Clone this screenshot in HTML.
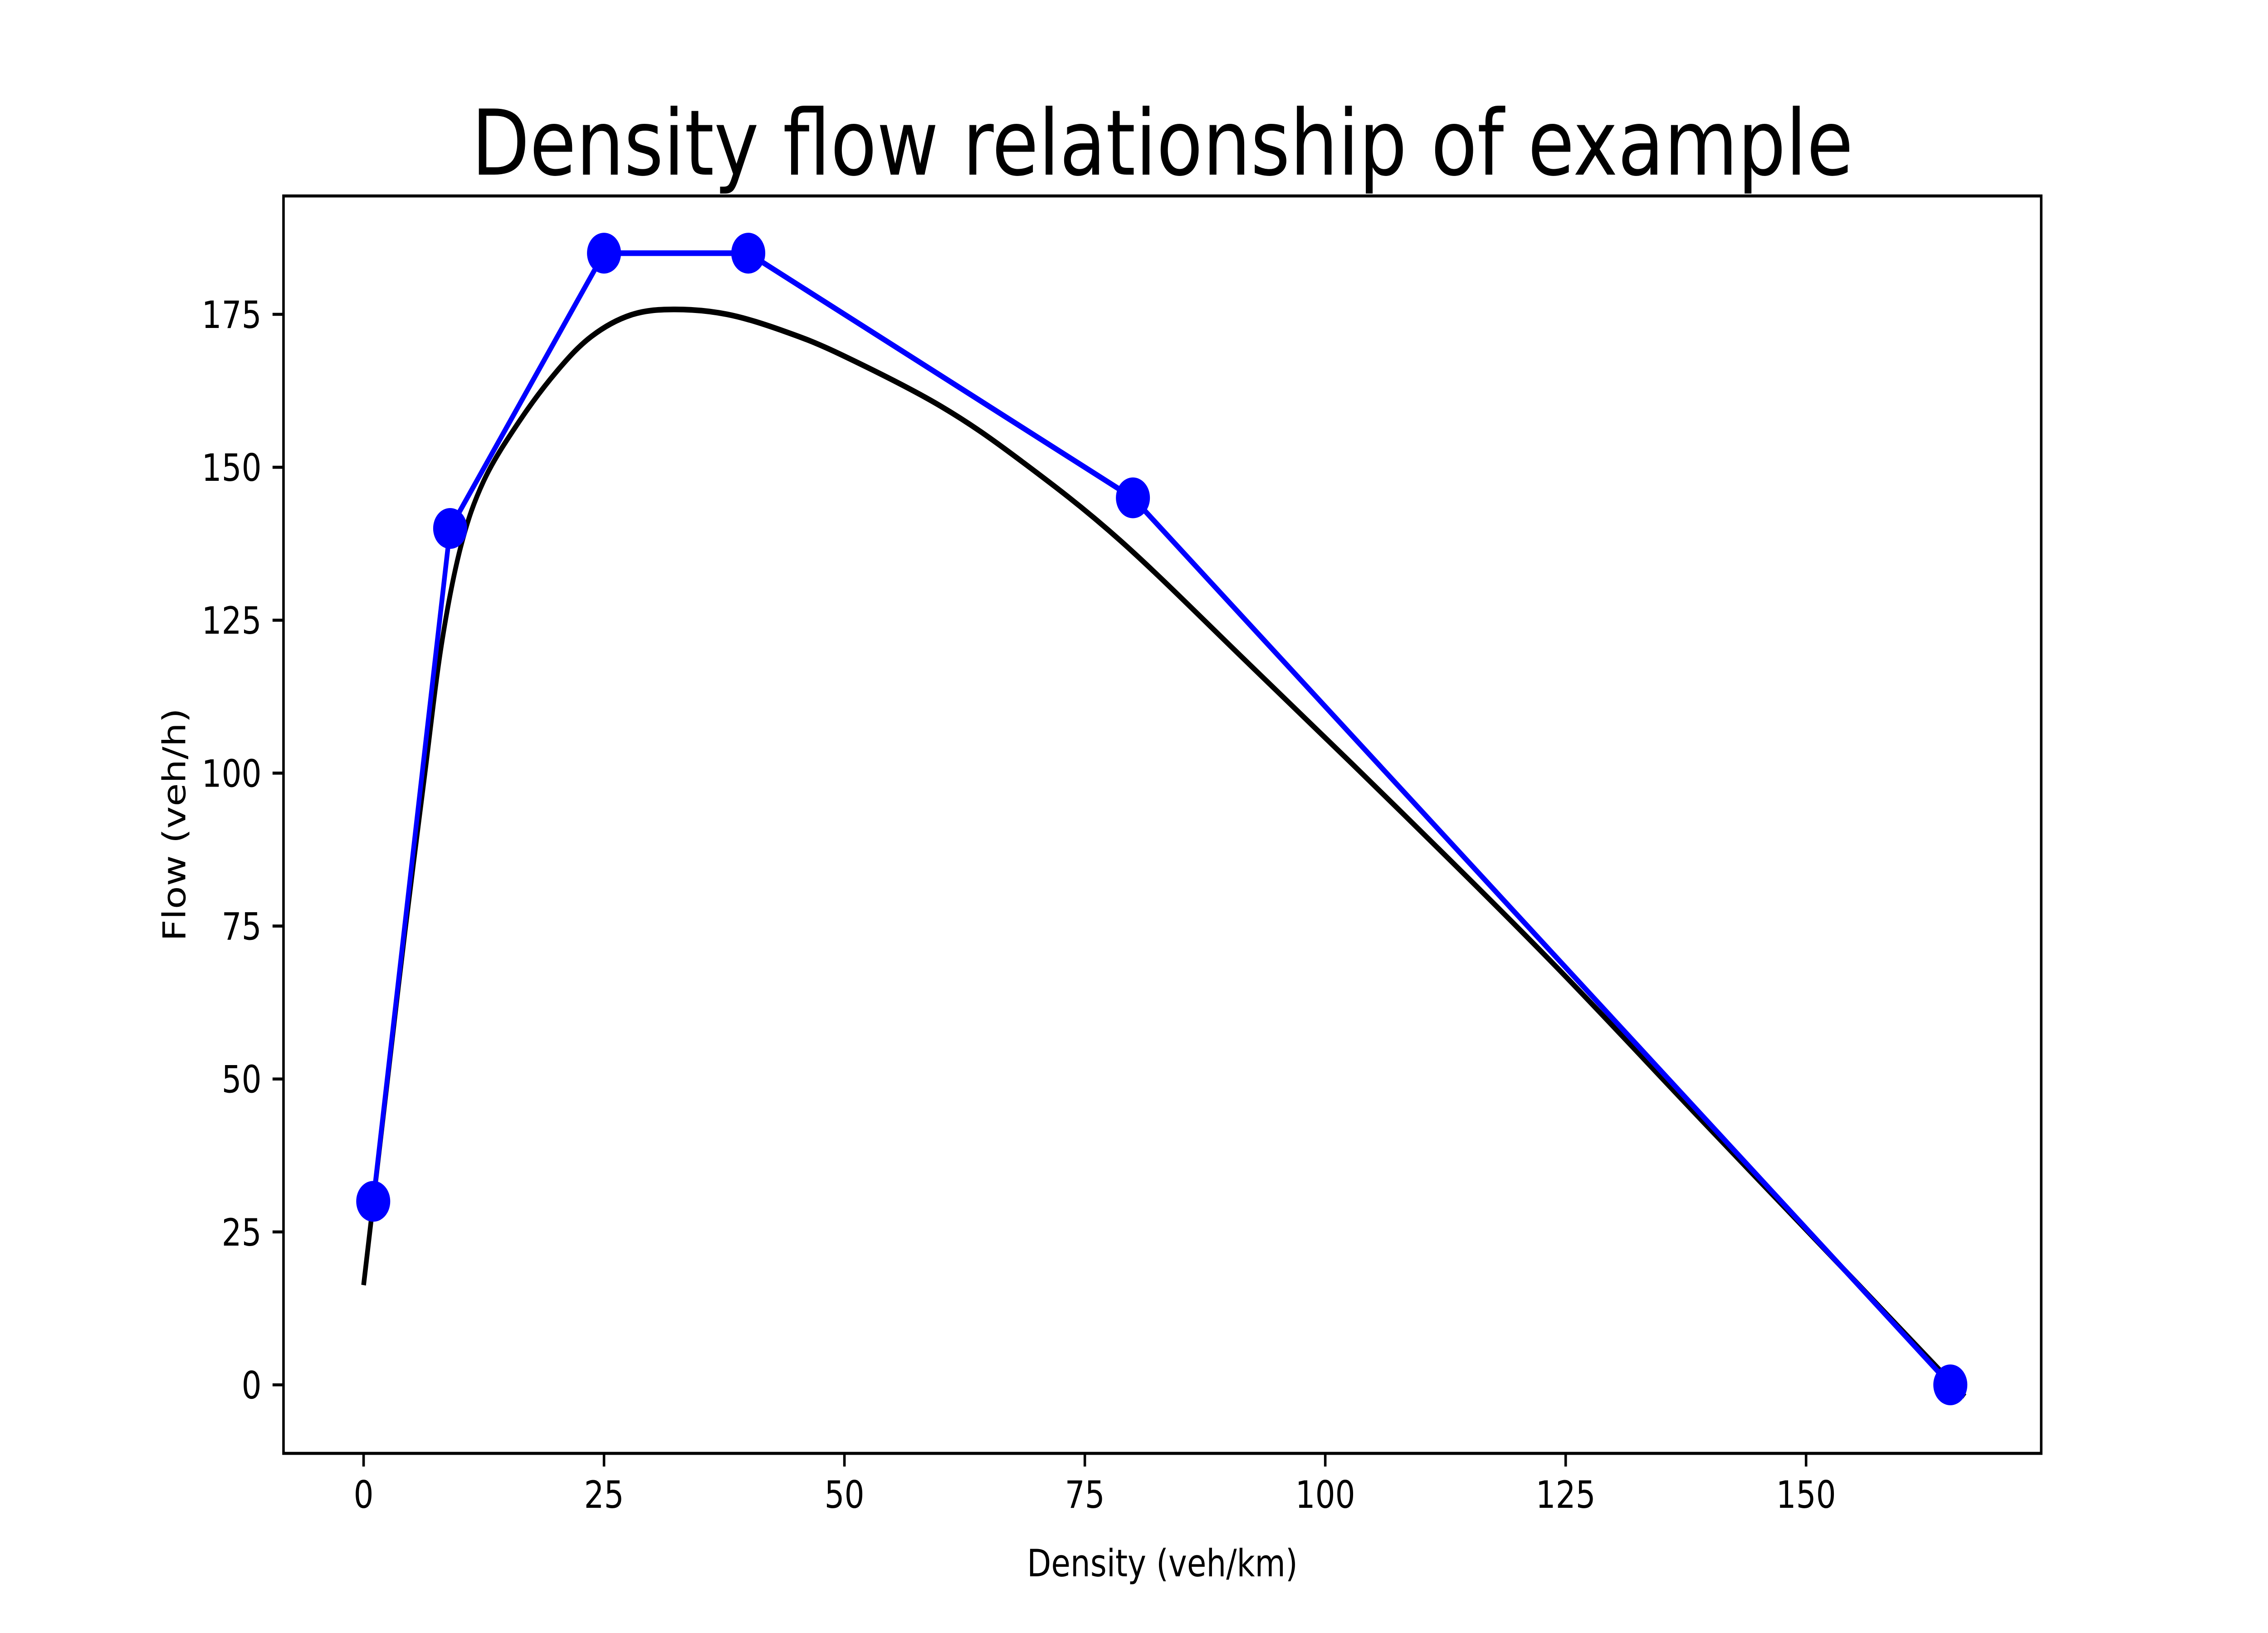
<!DOCTYPE html>
<html><head><meta charset="utf-8">
<style>html,body{margin:0;padding:0;background:#fff;overflow:hidden;width:100%;height:100%}svg{display:block;width:100vw;height:100vh}text{font-family:"DejaVu Sans","Liberation Sans",sans-serif}</style>
</head><body>
<svg id="chart" viewBox="0 0 6000 3600" preserveAspectRatio="none" xmlns="http://www.w3.org/2000/svg">
<rect width="6000" height="3600" fill="#fff"/>
<text x="3075" y="385" font-size="200" text-anchor="middle">Density flow relationship of example</text>
<text x="3075" y="3475" font-size="83" text-anchor="middle">Density (veh/km)</text>
<text x="0" y="0" font-size="83" text-anchor="middle" transform="translate(490,1818) rotate(-90)">Flow (veh/h)</text>
<g id="plot"></g>
</svg>
<script>
const xTicks = [0, 25, 50, 75, 100, 125, 150];
const yTicks = [0, 25, 50, 75, 100, 125, 150, 175];
const pointX = [1, 9, 25, 40, 80, 165];
const pointY = [30, 140, 185, 185, 145, 0];
const curveX = [0, 2.5, 4.3, 6.3, 8.1, 10.1, 12.5, 16.1, 20.1, 23.7, 27.8, 32.2, 37.8, 43.8, 49.8, 60, 68.4, 78.7, 92.1, 108, 123.8, 139.6, 155.5, 166.5];
const curveY = [16.3, 50, 74, 99, 121, 137, 147.8, 157.3, 165.7, 171.4, 174.9, 175.8, 175, 172.2, 168.3, 160, 151, 138, 117.8, 93.5, 68.7, 42.5, 16.3, -1.9];

const L = 750, R = 5400, T = 432, B = 3204;
const xMin = -8.33, xMax = 174.45, yMin = -11.2, yMax = 194.35;
function sx(v){ return L + (v - xMin) / (xMax - xMin) * (R - L); }
function sy(v){ return B - (v - yMin) / (yMax - yMin) * (B - T); }
const NS = "http://www.w3.org/2000/svg";
const g = document.getElementById('plot');
function mk(tag, attrs, parent){ const e = document.createElementNS(NS, tag); for (const k in attrs) e.setAttribute(k, attrs[k]); (parent||g).appendChild(e); return e; }

function smoothPath(xs, ys){
  const P = xs.map((x,i)=>[sx(x), sy(ys[i])]);
  let d = 'M' + P[0][0] + ',' + P[0][1];
  for (let i = 0; i < P.length - 1; i++){
    const p0 = P[Math.max(i-1,0)], p1 = P[i], p2 = P[i+1], p3 = P[Math.min(i+2,P.length-1)];
    const c1 = [p1[0] + (p2[0]-p0[0])/6, p1[1] + (p2[1]-p0[1])/6];
    const c2 = [p2[0] - (p3[0]-p1[0])/6, p2[1] - (p3[1]-p1[1])/6];
    d += ' C' + c1[0] + ',' + c1[1] + ' ' + c2[0] + ',' + c2[1] + ' ' + p2[0] + ',' + p2[1];
  }
  return d;
}

const curve = mk('path', {d: smoothPath(curveX, curveY), fill:'none', stroke:'#000', 'stroke-width':12.5, 'stroke-linejoin':'round'});



const line = mk('polyline', {points: pointX.map((x,i)=>sx(x)+','+sy(pointY[i])).join(' '), fill:'none', stroke:'#0000ff', 'stroke-width':12.5, 'stroke-linejoin':'round'});



pointX.forEach((x,i)=>{
  const c = mk('circle', {cx:sx(x), cy:sy(pointY[i]), r:45, fill:'#0000ff'});
  
  
});

const frame = mk('rect', {x:L, y:T, width:R-L, height:B-T, fill:'none', stroke:'#000', 'stroke-width':6.7});



xTicks.forEach(v=>{
  const t = mk('line', {x1:sx(v), x2:sx(v), y1:B, y2:B+29, stroke:'#000', 'stroke-width':6.7});
  
  
  const lb = mk('text', {x:sx(v), y:B+29+29+62, 'font-size':83, 'text-anchor':'middle'});
  lb.textContent = v;
  
  
});
yTicks.forEach(v=>{
  const t = mk('line', {x1:L-29, x2:L, y1:sy(v), y2:sy(v), stroke:'#000', 'stroke-width':6.7});
  
  
  const lb = mk('text', {x:L-29-29, y:sy(v)+30, 'font-size':83, 'text-anchor':'end'});
  lb.textContent = v;
  
  
});
</script>
</body></html>
